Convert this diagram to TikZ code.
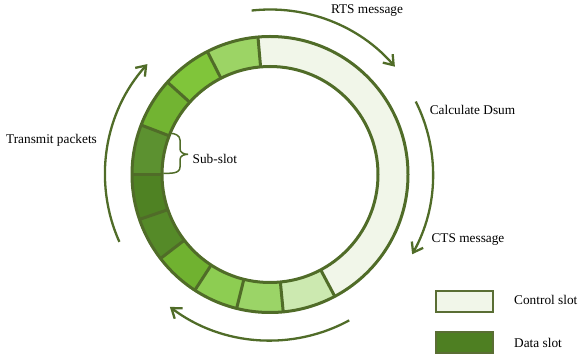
\documentclass[tikz,border=0pt]{standalone}
\usepackage{fontspec}
\setmainfont{Liberation Serif}
\usetikzlibrary{arrows.meta}

\definecolor{edge}{HTML}{506C28}
\definecolor{legedge}{HTML}{5A6E34}
\definecolor{ctrl}{HTML}{F1F6E9}
\definecolor{dataslot}{HTML}{4E7F22}
\definecolor{sA}{HTML}{9CD465}
\definecolor{sB}{HTML}{80C53A}
\definecolor{sC}{HTML}{72B432}
\definecolor{sD}{HTML}{5C9130}
\definecolor{sE}{HTML}{4F8223}
\definecolor{sF}{HTML}{558A28}
\definecolor{sG}{HTML}{70B230}
\definecolor{sH}{HTML}{8DCD52}
\definecolor{sI}{HTML}{9BD467}
\definecolor{sJ}{HTML}{CCE9B0}

\tikzset{
  flow/.style={draw=edge, line width=2.3pt, -{Straight Barb[length=9pt,width=13pt]}},
  label/.style={font=\fontsize{13.3}{16}\selectfont, inner sep=0pt},
  legendbox/.style={draw=legedge, line width=2pt, minimum width=57pt, minimum height=21pt, inner sep=0pt},
}

\begin{document}
\begin{tikzpicture}[x=1pt,y=1pt]
\useasboundingbox (0,0) rectangle (578,356);
\coordinate (C) at (270,181.5);

\begin{scope}[shift={(C)}]
  % annular sectors: control slot and the data sub-slots
  \foreach \a/\b/\c in {-62/95/ctrl, 95/117/sA, 117/138/sB, 138/159/sC, 159/180/sD,
                        180/199/sE, 199/217.5/sF, 217.5/237/sG, 237/256/sH,
                        256/275.5/sI, 275.5/298/sJ}{
    \fill[\c] (\a:138) arc[start angle=\a, end angle=\b, radius=138]
              -- (\b:108) arc[start angle=\b, end angle=\a, radius=108] -- cycle;
  }
  % ring outlines and slot borders
  \draw[edge, line width=3pt] (0,0) circle[radius=138];
  \draw[edge, line width=3pt] (0,0) circle[radius=108];
  \foreach \a in {95,117,138,159,180,199,217.5,237,256,275.5,298}{
    \draw[edge, line width=3pt] (\a:108) -- (\a:138);
  }

  % cycle arrows around the ring
  \draw[flow] (96.4:165) arc[start angle=96.4, end angle=40.8, radius=165];
  \draw[flow] (26.6:163) arc[start angle=26.6, end angle=-29.3, radius=163];
  \draw[flow] (-61.5:166) arc[start angle=-61.5, end angle=-127.1, radius=166];
  \draw[flow] (204.1:165) arc[start angle=204.1, end angle=138, radius=165];
\end{scope}

% brace marking one sub-slot
\coordinate (bt) at (170,222.7);
\coordinate (bb) at (163.3,182.7);
\coordinate (tip) at (188,201.7);
\draw[edge, line width=1.5pt]
  (bt) to[out=0,in=90] (180,216) -- (180,207) to[out=-90,in=180] (tip)
  (tip) to[out=180,in=90] (180,196.5) -- (180,189) to[out=-90,in=0] (bb);
\node[label, anchor=west] (sub) at (192.5,197) {Sub-slot};

% phase labels
\node[label] (rts) at (367,345) {RTS message};
\node[label] (calc) at (472.5,246) {Calculate Dsum};
\node[label] (cts) at (468,116) {CTS message};
\node[label] (tx) at (51.5,215.5) {Transmit packets};

% legend
\node[legendbox, fill=ctrl] (lc) at (464.5,54.3) {};
\node[legendbox, fill=dataslot] (ld) at (464.5,14) {};
\node[label, anchor=west] (lct) at (514,56) {Control slot};
\node[label, anchor=west] (ldt) at (514,13.5) {Data slot};
\end{tikzpicture}
\end{document}
